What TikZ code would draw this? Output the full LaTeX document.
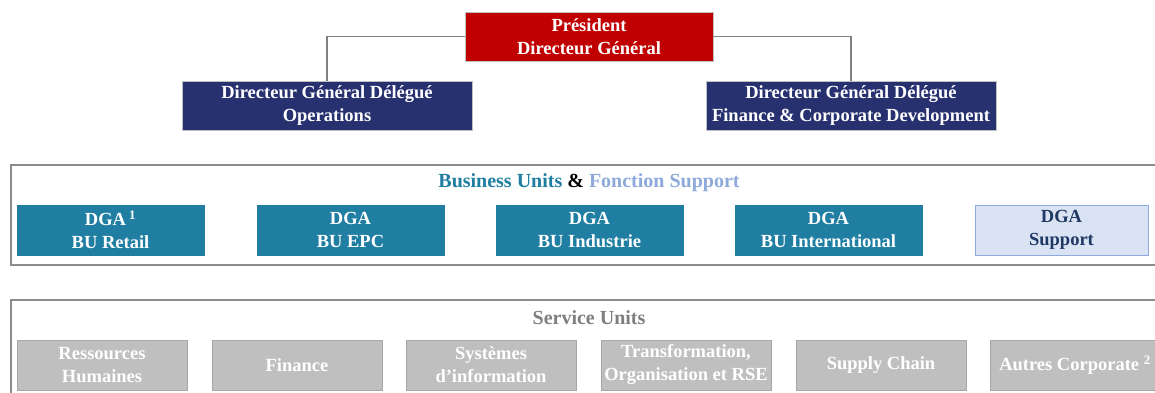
\documentclass[tikz,border=0pt]{standalone}
\usepackage{fontspec}
\setmainfont{Liberation Serif}
\definecolor{presred}{HTML}{C00000}
\definecolor{navy}{HTML}{283170}
\definecolor{teal}{HTML}{1F7EA1}
\definecolor{lightblue}{HTML}{8EAADB}
\definecolor{supfill}{HTML}{DAE3F3}
\definecolor{supdark}{HTML}{1F3864}
\definecolor{svgray}{HTML}{BFBFBF}
\definecolor{titlegray}{HTML}{7F7F7F}
\definecolor{framegray}{HTML}{8C8C8C}
\begin{document}
\begin{tikzpicture}[x=1pt,y=-1pt,
  box/.style={rectangle, inner sep=0pt, align=center, text=white,
    font=\bfseries\fontsize{18.5}{23}\selectfont, draw=gray!50, line width=0.6pt},
  presbox/.style={box, fill=presred, minimum width=248pt, minimum height=49pt},
  dgdbox/.style={box, fill=navy, minimum width=290pt, minimum height=49pt},
  bubox/.style={box, fill=teal, draw=teal, minimum width=187pt, minimum height=50pt},
  supbox/.style={box, fill=supfill, draw=lightblue, text=supdark, minimum width=173pt, minimum height=50pt},
  svbox/.style={box, fill=svgray, draw=gray!70, minimum width=170pt, minimum height=50pt},
  frame/.style={rectangle, draw=framegray, line width=1.5pt, inner sep=0pt},
  title/.style={font=\bfseries\fontsize{20}{24}\selectfont, inner sep=0pt},
  conn/.style={draw=gray, line width=1.3pt}
]
\clip (0,0) rectangle (1155,392);
\fill[white] (0,0) rectangle (1155,392);
% frames
\node[frame, minimum width=1160pt, minimum height=100pt] (bframe) at (591,215) {};
\node[frame, minimum width=1160pt, minimum height=100pt] (sframe) at (591,350) {};
% top
\node[presbox] (pres) at (589,36.5) {Président\\Directeur Général};
\node[dgdbox] (ops) at (327,105.5) {Directeur Général Délégué\\Operations};
\node[dgdbox] (fin) at (851,105.5) {Directeur Général Délégué\\Finance \& Corporate Development};
\draw[conn] (pres.west) -| (ops.north);
\draw[conn] (pres.east) -| (fin.north);
% business units
\node[title] (btitle) at (589,183) {\textcolor{teal}{Business Units} \textcolor{black}{\&} \textcolor{lightblue}{Fonction Support}};
\node[bubox] (bu1) at (110.5,230) {DGA\,\textsuperscript{1}\\BU Retail};
\node[bubox] (bu2) at (350.5,230) {DGA\\BU EPC};
\node[bubox] (bu3) at (589.5,230) {DGA\\BU Industrie};
\node[bubox] (bu4) at (828.5,230) {DGA\\BU International};
\node[supbox] (sup) at (1061.5,230) {DGA\\Support};
% service units
\node[title, text=titlegray] (stitle) at (589,318) {Service Units};
\node[svbox] (sv1) at (102,365) {Ressources\\Humaines};
\node[svbox] (sv2) at (297,365) {Finance};
\node[svbox] (sv3) at (491,365) {Systèmes\\d’information};
\node[svbox] (sv4) at (686,365) {Transformation,\\Organisation et RSE};
\node[svbox] (sv5) at (881,365) {Supply Chain};
\node[svbox] (sv6) at (1075,365) {Autres Corporate \textsuperscript{2}};
\end{tikzpicture}
\end{document}
